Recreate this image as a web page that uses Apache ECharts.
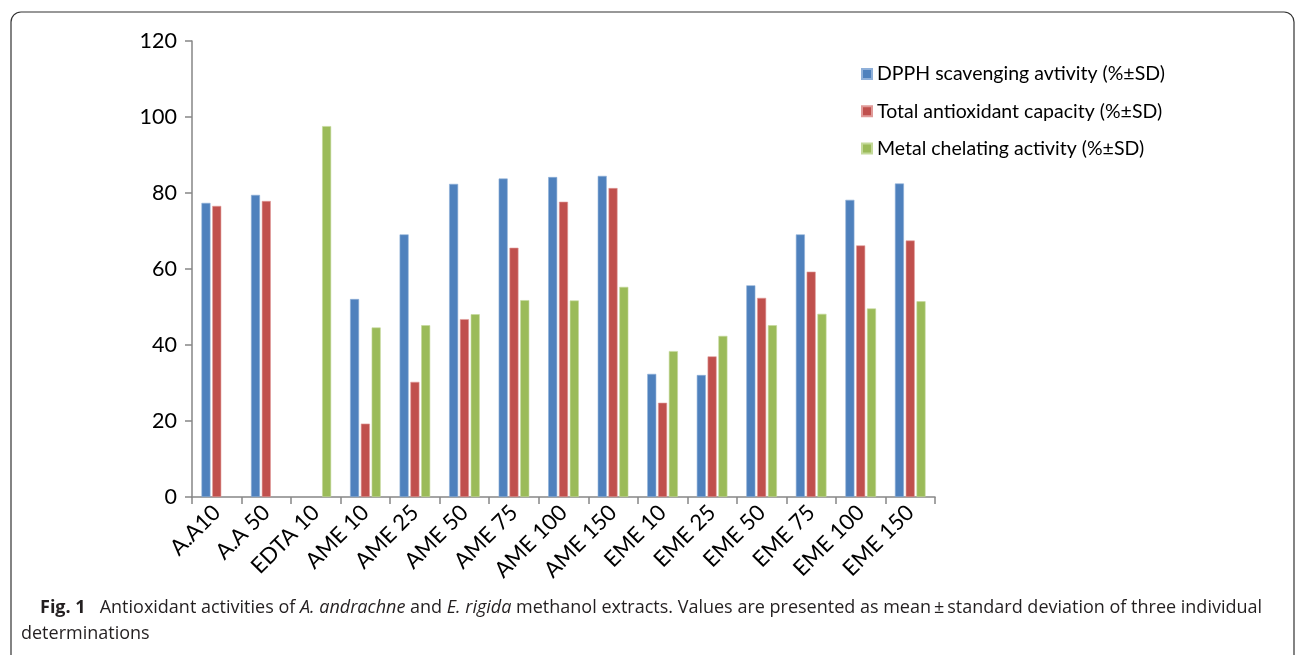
<!DOCTYPE html>
<html>
<head>
<meta charset="utf-8">
<script src="https://cdn.jsdelivr.net/npm/echarts@6/dist/echarts.min.js"></script>
<style>
html,body{margin:0;padding:0;background:#fff;}
#chart{width:1295px;height:655px;}
</style>
</head>
<body>
<div id="chart"></div>
<script>
const categories = ['A.A10','A.A 50','EDTA 10','AME 10','AME 25','AME 50','AME 75','AME 100','AME 150','EME 10','EME 25','EME 50','EME 75','EME 100','EME 150'];
const seriesNames = ['DPPH scavenging avtivity (%±SD)','Total antioxidant capacity (%±SD)','Metal chelating activity (%±SD)'];
const dpph  = [77.4, 79.5, null, 52.1, 69.1, 82.4, 83.8, 84.2, 84.5, 32.4, 32.1, 55.7, 69.1, 78.2, 82.5];
const tac   = [76.6, 77.9, null, 19.3, 30.3, 46.8, 65.6, 77.7, 81.3, 24.8, 37.0, 52.4, 59.3, 66.2, 67.5];
const metal = [null, null, 97.6, 44.6, 45.2, 48.1, 51.8, 51.7, 55.3, 38.4, 42.4, 45.2, 48.2, 49.6, 51.5];
const yTicks = [0, 20, 40, 60, 80, 100, 120];
const colors = ['#4F81BD', '#C0504D', '#9BBB59'];
const borders = ['#8FB0D9', '#E09A98', '#C4D99A'];

const chartFont = 'Lato';
const capFont = '"Open Sans"';

const chart = echarts.init(document.getElementById('chart'), null, {renderer: 'canvas'});
const values = [dpph, tac, metal];
const option = {
  animation: false,
  backgroundColor: '#fff',
  color: colors,
  grid: {left: 192, right: 360, top: 41, bottom: 158, containLabel: false},
  legend: {
    orient: 'vertical', left: 856, top: 58,
    itemWidth: 10, itemHeight: 10, itemGap: 15.3,
    icon: 'rect',
    textStyle: {fontFamily: chartFont, fontSize: 19.5, color: '#000', lineHeight: 22},
    data: seriesNames
  },
  xAxis: {
    type: 'category', data: categories,
    axisLine: {lineStyle: {color: '#868686', width: 1.5}},
    axisTick: {show: true, length: 7, lineStyle: {color: '#868686', width: 1.5}},
    axisLabel: {rotate: 45, margin: 12, fontFamily: chartFont, fontSize: 22, color: '#000', interval: 0}
  },
  yAxis: {
    type: 'value', min: yTicks[0], max: yTicks[yTicks.length - 1], interval: 20,
    splitLine: {show: false},
    axisLine: {show: true, lineStyle: {color: '#868686', width: 1.5}},
    axisTick: {show: true, length: 7, lineStyle: {color: '#868686', width: 1.5}},
    axisLabel: {margin: 15, fontFamily: chartFont, fontSize: 21.5, color: '#000'}
  },
  series: seriesNames.map((n, i) => ({
    name: n, type: 'bar', data: values[i],
    barWidth: 9, barGap: '20%',
    itemStyle: {color: colors[i], borderColor: borders[i], borderWidth: 0.6}
  })),
  title: [
    {
      left: 40, top: 599, padding: 0,
      text: '{b|Fig. 1}   Antioxidant activities of {i|A. andrachne} and {i|E. rigida} methanol extracts. Values are presented as mean\u2009±\u2009standard deviation of three individual',
      textStyle: {
        fontFamily: capFont, fontSize: 18, fontWeight: 'normal', color: '#231F20',
        rich: {
          b: {fontFamily: capFont, fontSize: 18, fontWeight: 'bold', color: '#231F20'},
          i: {fontFamily: capFont, fontSize: 18, fontStyle: 'italic', color: '#231F20'}
        }
      }
    },
    {
      left: 21, top: 625, padding: 0,
      text: 'determinations',
      textStyle: {fontFamily: capFont, fontSize: 18, fontWeight: 'normal', color: '#231F20'}
    }
  ],
  graphic: [{
    type: 'rect', silent: true,
    shape: {x: 11, y: 12, width: 1283, height: 660, r: 10},
    style: {fill: 'none', stroke: '#333', lineWidth: 1.2}
  }]
};
chart.setOption(option);
</script>
</body>
</html>
